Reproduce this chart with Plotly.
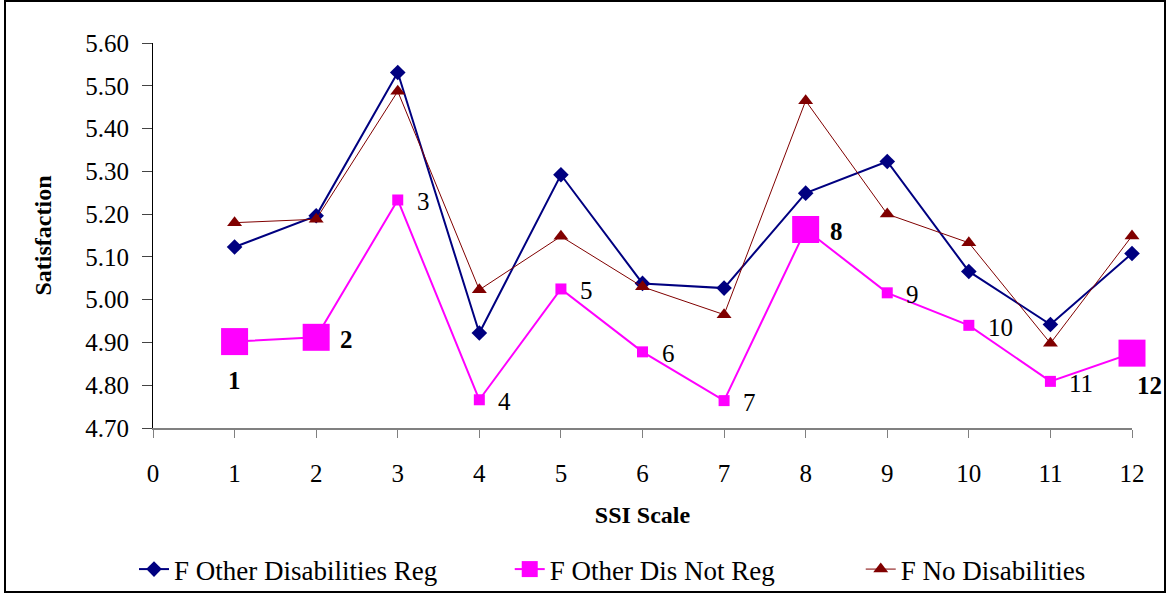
import plotly.graph_objects as go

scale = list(range(1, 13))
other_reg = [5.123, 5.196, 5.531, 4.922, 5.292, 5.038, 5.027, 5.249, 5.323, 5.066, 4.942, 5.108]
other_not_reg = [4.902, 4.912, 5.233, 4.766, 5.025, 4.878, 4.764, 5.164, 5.016, 4.940, 4.809, 4.875]
no_dis = [5.180, 5.188, 5.487, 5.023, 5.148, 5.030, 4.965, 5.465, 5.200, 5.133, 4.898, 5.149]
series_names = ["F Other Disabilities Reg", "F Other Dis Not Reg", "F No Disabilities"]
point_labels = ["1", "2", "3", "4", "5", "6", "7", "8", "9", "10", "11", "12"]
highlight = [1, 2, 8, 12]
y_ticks = [4.70, 4.80, 4.90, 5.00, 5.10, 5.20, 5.30, 5.40, 5.50, 5.60]
x_ticks = list(range(0, 13))

FONT = "Liberation Serif, Times New Roman, serif"
NB = "\u00a0"  # spacing between legend entries

sizes = [27 if s in highlight else 11 for s in scale]

fig = go.Figure()
fig.add_trace(go.Scatter(
    x=scale, y=other_reg, name=series_names[0] + NB * 10, mode="lines+markers",
    line=dict(color="#000080", width=2), cliponaxis=False,
    marker=dict(symbol="diamond", size=12, color="#000080", opacity=1),
))
fig.add_trace(go.Scatter(
    x=scale, y=other_not_reg, name=series_names[1] + NB * 12, mode="lines+markers",
    line=dict(color="#FF00FF", width=2), cliponaxis=False,
    marker=dict(symbol="square", size=sizes, color="#FF00FF", opacity=1, line=dict(width=0)),
))
fig.add_trace(go.Scatter(
    x=scale, y=no_dis, name=series_names[2], mode="lines+markers",
    line=dict(color="#800000", width=1), cliponaxis=False,
    marker=dict(symbol="triangle-up", size=13, color="#800000", opacity=1),
))

# data labels for the pink series
annotations = []
for s, v, lab in zip(scale, other_not_reg, point_labels):
    bold = s in highlight
    if s == 1:
        xa, xs, ys = "center", 0, -39
    elif s == 12:
        xa, xs, ys = "center", 17, -32
    elif bold:
        xa, xs, ys = "left", 22, -2
    else:
        xa, xs, ys = "left", 17, -2
    annotations.append(dict(
        x=s, y=v, xref="x", yref="y", text=f"<b>{lab}</b>" if bold else lab,
        showarrow=False, xanchor=xa, yanchor="middle", xshift=xs, yshift=ys,
        font=dict(family=FONT, size=25, color="black"),
    ))

fig.update_layout(
    width=1169, height=595,
    margin=dict(l=153, r=37, t=43, b=167, autoexpand=False),
    paper_bgcolor="white", plot_bgcolor="white",
    font=dict(family=FONT, size=24, color="black"),
    showlegend=True,
    legend=dict(orientation="h", x=(134 - 153) / 979, xanchor="left", y=-0.304, yanchor="top",
                font=dict(family=FONT, size=27), itemwidth=30, tracegroupgap=0,
                bgcolor="rgba(0,0,0,0)"),
    xaxis=dict(range=[0, 12], tickvals=x_ticks, ticks="outside", ticklen=8, tickcolor="#808080",
               showline=True, linecolor="#808080", linewidth=2, showgrid=False, zeroline=False,
               tickfont=dict(family=FONT, size=25), ticklabelstandoff=14, automargin=False,
               title=dict(text="<b>SSI Scale</b>", font=dict(family=FONT, size=24), standoff=20)),
    yaxis=dict(range=[4.70, 5.60], tickvals=y_ticks, tickformat=".2f", ticks="outside", ticklen=10,
               showline=True, linecolor="black", linewidth=1, showgrid=False, zeroline=False,
               tickfont=dict(family=FONT, size=25), ticklabelstandoff=8, automargin=False,
               title=dict(text="<b>Satisfaction</b>", font=dict(family=FONT, size=24), standoff=26)),
    annotations=annotations,
    shapes=[dict(type="rect", xref="paper", yref="paper",
                 x0=(5 - 153) / 979, x1=(1165 - 153) / 979,
                 y0=-(592 - 428) / 385, y1=(428 - 1) / 385,
                 line=dict(color="black", width=2), fillcolor="rgba(0,0,0,0)", layer="below")],
)

fig.write_html("out.html", config={"displayModeBar": False},
               post_script="document.body.style.margin='0px';document.body.style.padding='0px';")
